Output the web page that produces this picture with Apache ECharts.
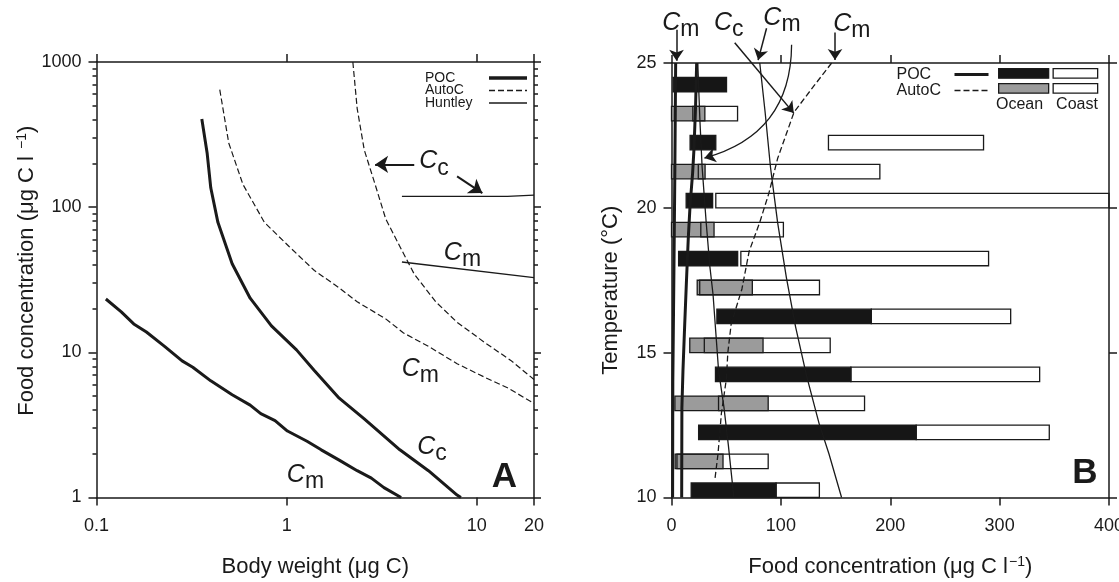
<!DOCTYPE html>
<html><head><meta charset="utf-8">
<script src="https://cdn.jsdelivr.net/npm/echarts@6/dist/echarts.min.js"></script>
<style>html,body{margin:0;padding:0;background:#fff}#c{width:1119px;height:582px}</style>
</head><body><div id="c"></div>
<script>
// ---------- Panel A: body weight (µg C) vs food concentration ----------
const pocCmBody = [0.112,0.135,0.157,0.183,0.228,0.282,0.321,0.399,0.517,0.643,0.731,0.869,1.01,1.28,1.52,1.89,2.35,2.79,3.25,4.0];
const pocCmFood = [23.3,19.0,15.7,13.8,11.0,8.73,7.9,6.36,5.1,4.33,3.78,3.39,2.87,2.44,2.13,1.81,1.53,1.36,1.17,1.0];
const pocCcBody = [0.358,0.382,0.399,0.435,0.517,0.643,0.832,1.127,1.398,1.89,2.56,3.94,5.57,7.88,8.25];
const pocCcFood = [405,235,136,78.6,40.8,23.6,15.2,10.4,7.5,4.83,3.48,2.13,1.53,1.04,1.0];
const autoCmBody = [0.445,0.496,0.589,0.764,1.03,1.40,1.89,2.35,3.32,4.12,5.57,7.88,11.1,14.5,20];
const autoCmFood = [645,277,143.5,78.6,53.6,36.6,27.8,22.3,17.0,13.6,11.0,8.35,6.7,5.7,4.45];
const autoCcBody = [2.23,2.35,2.56,2.92,3.32,3.94,4.69,6.08,7.88,11.1,15.1,20];
const autoCcFood = [1000,478,248,143.5,83,53.6,34.6,22.3,16.1,11.6,8.8,6.5];
const huntCcBody = [4.04,14.5,20];
const huntCcFood = [118.6,118.6,121];
const huntCmBody = [4.04,20];
const huntCmFood = [41.9,32.7];
const xTicksA = [0.1,1,10,20];
const yTicksA = [1,10,100,1000];
const yMinorA = [2,3,4,5,6,7,8,9,20,30,40,50,60,70,80,90,200,300,400,500,600,700,800,900];
const annALabel = ['Cc','Cm','Cm','Cc','Cm'];
const annABody = [5.96,8.41,5.05,5.82,1.256];
const annAFood = [197,46,7.36,2.13,1.37];
const arrowsA = [[[4.69,197],[2.92,197]],[[7.88,163],[10.7,125]]];

// ---------- Panel B: food concentration vs temperature ----------
const pocRowTemp  = [24,22,20,18,16,14,12,10];
const pocOceanMin = [1.5,17.0,13.4,6.5,41.5,40.2,24.8,18.0];
const pocOceanMax = [50.3,40.5,37.6,60.5,182.7,164.0,223.7,95.6];
const pocCoastMin = [null,143.5,40.5,63.4,182.7,164.0,223.7,95.6];
const pocCoastMax = [null,285.3,400,289.9,310.1,336.6,345.4,135.2];
const autoRowTemp  = [23,21,19,17,15,13,11];
const autoOceanMin = [0,0,0,23.5,16.7,3.1,3.3];
const autoOceanMax = [30.5,30.7,38.9,73.9,83.7,88.4,47.1];
const autoCoastMin = [19.5,24.5,26.8,25.8,30.0,43.0,5.0];
const autoCoastMax = [60.4,190.5,102.3,135.3,145.1,176.5,88.4];

const pocCmFoodB = [3.8,3.0,2.0,1.2,1.0];
const pocCmTempB = [25,21,17,14,10];
const pocCcFoodB = [23,22,20.5,19.3,17,15.4,13.7,12.1,10.5,9.5,9.3];
const pocCcTempB = [25,23.5,22,21.2,20.1,19,17.5,16,14.4,13.1,10];
const thinAFoodB = [24,26,28,31.7,35,38,43,48,52,57];
const thinATempB = [25,23,21.4,19.5,18,17,14.4,13.1,11.8,10];
const thinBFoodB = [80.7,85.6,90.5,97,105,113.4,123.5,134.9,144,155.5];
const thinBTempB = [25,23.3,21.4,19.5,17.6,15.9,14.2,12.56,11.5,10];
const autoFoodB = [146.4,130,112,97,89,80.7,71,64.4,54.6,51.5,50.2,45.6,42.5,39.6];
const autoTempB = [25,24.2,23.3,21.7,20.5,19.5,18.5,17.2,16,15,14.1,12.9,11.5,10.6];
const annBLabel = ['Cm','Cc','Cm','Cm'];
const annBFood = [8.5,52.3,101,164.8];
const annBTemp = [26.29,26.29,26.46,26.25];
const arrowsB = [[[4.6,26.15],[4.6,25.08]],[[57.8,25.7],[111.8,23.27]],[[86.9,26.2],[79.2,25.1]],[[149.5,26.05],[149.5,25.1]]];
const curvedArrowB = [[[109.8,25.63],[30.1,21.72]]];

// ---------- styling ----------
const FONT = "'Liberation Sans', Arial, Helvetica, sans-serif";
const INK = '#1a1a1a';
const zip = (a,b) => a.map((v,i) => [v,b[i]]);
const subRich = {
  c: {fontFamily: FONT, fontSize: 25, fontStyle: 'italic', color: INK, opacity: 1, verticalAlign: 'bottom', padding: [0,0,6,0]},
  s: {fontFamily: FONT, fontSize: 23, color: INK, opacity: 1, verticalAlign: 'bottom'}
};
const subFmt = t => '{c|' + t[0] + '}{s|' + t.slice(1) + '}';
const supRich = {sup: {fontFamily: FONT, fontSize: 14, color: INK, verticalAlign: 'top', padding: [0,0,0,1]}};

const lineW = {color: INK, width: 1.5};
function axis(o) {
  return Object.assign({
    axisLine: {show: true, onZero: false, lineStyle: lineW},
    axisTick: {show: true, inside: false, length: 8, lineStyle: lineW},
    axisLabel: {show: false},
    splitLine: {show: false}
  }, o);
}
const tickLabel = {show: true, fontFamily: FONT, fontSize: 18, color: INK};
const nameStyle = {fontFamily: FONT, fontSize: 22, color: INK, rich: supRich};

function barItem(kind) {
  return function (params, api) {
    const t = api.value(0), lo = api.value(1), hi = api.value(2);
    if (isNaN(lo) || isNaN(hi)) return;
    const p0 = api.coord([lo, t]);
    const p1 = api.coord([hi, t + 0.5]);
    const cs = params.coordSys;
    const r = echarts.graphic.clipRectByRect(
      {x: p0[0], y: p1[1], width: p1[0] - p0[0], height: p0[1] - p1[1]},
      {x: cs.x, y: cs.y, width: cs.width, height: cs.height + 1});
    if (!r) return;
    const fill = kind === 'poc' ? '#161616' : kind === 'auto' ? '#9b9b9b' : 'none';
    return {type: 'rect', shape: r, style: {fill: fill, stroke: INK, lineWidth: 1.3}};
  };
}

const lineSeries = (name, xi, yi, data, width, dashed) => ({
  name: name, type: 'line', xAxisIndex: xi, yAxisIndex: yi, data: data,
  symbol: 'none', showSymbol: false, silent: true, z: 5,
  lineStyle: {color: INK, width: width, type: dashed ? [6,3] : 'solid', cap: 'butt'},
  itemStyle: {color: INK}
});
const textSeries = (xi, yi, data, label) => ({
  type: 'scatter', xAxisIndex: xi, yAxisIndex: yi, clip: false, silent: true, z: 10,
  symbolSize: 0, itemStyle: {color: INK, opacity: 1}, emphasis: {disabled: true},
  data: data, label: Object.assign({show: true, position: 'inside', color: INK, opacity: 1, textBorderWidth: 0}, label)
});

const chart = echarts.init(document.getElementById('c'), null, {renderer: 'canvas'});
chart.setOption({
  backgroundColor: '#fff',
  animation: false,
  textStyle: {fontFamily: FONT},
  grid: [
    {left: 96.5, top: 62, width: 437.5, height: 435.5, containLabel: false, outerBoundsMode: 'none'},
    {left: 671.5, top: 63, width: 437.5, height: 434.5, containLabel: false, outerBoundsMode: 'none'}
  ],
  xAxis: [
    axis({gridIndex: 0, type: 'log', logBase: 10, min: 0.1, max: 20, position: 'bottom',
      axisTick: {show: true, length: 8, lineStyle: lineW, customValues: xTicksA},
      axisLabel: Object.assign({}, tickLabel, {margin: 20, customValues: xTicksA, formatter: v => String(+v.toPrecision(3))}),
      name: 'Body weight (μg C)', nameLocation: 'middle', nameGap: 58, nameTextStyle: nameStyle}),
    axis({gridIndex: 0, type: 'log', logBase: 10, min: 0.1, max: 20, position: 'top',
      axisTick: {show: true, length: 8, lineStyle: lineW, customValues: xTicksA}}),
    axis({gridIndex: 1, type: 'value', min: 0, max: 400, interval: 100, position: 'bottom',
      axisLabel: Object.assign({}, tickLabel, {margin: 20}),
      name: 'Food concentration (μg C l{sup|−1})', nameLocation: 'middle', nameGap: 58, nameTextStyle: nameStyle}),
    axis({gridIndex: 1, type: 'value', min: 0, max: 400, interval: 100, position: 'top'})
  ],
  yAxis: [
    axis({gridIndex: 0, type: 'log', logBase: 10, min: 1, max: 1000, position: 'left',
      axisTick: {show: true, length: 8, lineStyle: lineW, customValues: yTicksA},
      axisLabel: Object.assign({}, tickLabel, {margin: 15, customValues: yTicksA, formatter: v => String(Math.round(v))}),
      name: 'Food concentration (μg C l {sup|−1})', nameLocation: 'middle', nameGap: 55,
      nameTextStyle: Object.assign({}, nameStyle, {padding: [0,0,0,18]})}),
    axis({gridIndex: 0, type: 'log', logBase: 10, min: 1, max: 1000, position: 'left',
      axisLine: {show: false}, axisTick: {show: true, length: 4, lineStyle: lineW, customValues: yMinorA}}),
    axis({gridIndex: 0, type: 'log', logBase: 10, min: 1, max: 1000, position: 'right',
      axisTick: {show: true, length: 7, lineStyle: lineW, customValues: yTicksA}}),
    axis({gridIndex: 0, type: 'log', logBase: 10, min: 1, max: 1000, position: 'right',
      axisLine: {show: false}, axisTick: {show: true, length: 4, lineStyle: lineW, customValues: yMinorA}}),
    axis({gridIndex: 1, type: 'value', min: 10, max: 25, interval: 5, position: 'left',
      axisLabel: Object.assign({}, tickLabel, {margin: 15}),
      name: 'Temperature (°C)', nameLocation: 'middle', nameGap: 50,
      nameTextStyle: Object.assign({}, nameStyle, {padding: [0,20,0,0]})}),
    axis({gridIndex: 1, type: 'value', min: 10, max: 25, interval: 5, position: 'right'})
  ],
  legend: [
    {orient: 'vertical', left: 420, top: 66, align: 'right', itemWidth: 38, itemHeight: 8, itemGap: -1.5,
      selectedMode: false,
      data: [{name: 'POC', lineStyle: {width: 3.5}}, {name: 'AutoC', lineStyle: {width: 1.3}}, {name: 'Huntley', lineStyle: {width: 1.4}}],
      itemStyle: {opacity: 0, borderWidth: 0},
      formatter: n => '{n|' + n + '}',
      textStyle: {color: INK, fontFamily: FONT, fontSize: 14, lineHeight: 12,
        rich: {n: {width: 59, align: 'left', fontFamily: FONT, fontSize: 14, color: INK, lineHeight: 12}}}},
    {orient: 'vertical', left: 891.5, top: 61.5, align: 'right', itemWidth: 34, itemHeight: 8, itemGap: 0,
      selectedMode: false,
      data: [{name: 'POC', lineStyle: {width: 3}}, {name: 'AutoC', lineStyle: {width: 1.3}}],
      itemStyle: {opacity: 0, borderWidth: 0},
      formatter: n => '{n|' + n + '}',
      textStyle: {color: INK, fontFamily: FONT, fontSize: 16, lineHeight: 16,
        rich: {n: {width: 53, align: 'left', fontFamily: FONT, fontSize: 16, color: INK, lineHeight: 16}}}}
  ],
  graphic: [
    {type: 'rect', left: 998, top: 68, shape: {width: 50, height: 9.5}, style: {fill: '#161616', stroke: INK, lineWidth: 1.3}, silent: true},
    {type: 'rect', left: 1052.5, top: 68, shape: {width: 44.5, height: 9.5}, style: {fill: '#fff', stroke: INK, lineWidth: 1.3}, silent: true},
    {type: 'rect', left: 998, top: 83, shape: {width: 50, height: 9.5}, style: {fill: '#9b9b9b', stroke: INK, lineWidth: 1.3}, silent: true},
    {type: 'rect', left: 1052.5, top: 83, shape: {width: 44.5, height: 9.5}, style: {fill: '#fff', stroke: INK, lineWidth: 1.3}, silent: true},
    {type: 'text', x: 1019.5, y: 105, style: {text: 'Ocean', fill: INK, font: '16px ' + FONT, textAlign: 'center', textVerticalAlign: 'middle'}, silent: true},
    {type: 'text', x: 1077, y: 105, style: {text: 'Coast', fill: INK, font: '16px ' + FONT, textAlign: 'center', textVerticalAlign: 'middle'}, silent: true}
  ],
  series: [
    // Panel A curves
    lineSeries('POC', 0, 0, zip(pocCmBody, pocCmFood), 3, false),
    lineSeries('POC', 0, 0, zip(pocCcBody, pocCcFood), 3, false),
    lineSeries('AutoC', 0, 0, zip(autoCmBody, autoCmFood), 1.2, true),
    lineSeries('AutoC', 0, 0, zip(autoCcBody, autoCcFood), 1.2, true),
    lineSeries('Huntley', 0, 0, zip(huntCcBody, huntCcFood), 1.4, false),
    lineSeries('Huntley', 0, 0, zip(huntCmBody, huntCmFood), 1.4, false),
    textSeries(0, 0, annALabel.map((t, i) => ({name: t, value: [annABody[i], annAFood[i]]})),
      {formatter: p => subFmt(p.name), rich: subRich}),
    textSeries(0, 0, [{name: 'A', value: [13.97, 1.37]}],
      {formatter: '{b}', fontFamily: FONT, fontSize: 35, fontWeight: 'bold'}),
    {type: 'lines', coordinateSystem: 'cartesian2d', xAxisIndex: 0, yAxisIndex: 0, clip: false, silent: true, z: 10,
      symbol: ['none','arrow'], symbolSize: [0, 13],
      lineStyle: {color: INK, width: 2, opacity: 1, curveness: 0},
      data: arrowsA.map(c => ({coords: c}))},
    // Panel B bars
    {name: 'Ocean POC', type: 'custom', xAxisIndex: 2, yAxisIndex: 4, silent: true, z: 2,
      renderItem: barItem('poc'), encode: {x: [1,2], y: 0},
      data: pocRowTemp.map((t, i) => [t, pocOceanMin[i], pocOceanMax[i]])},
    {name: 'Ocean AutoC', type: 'custom', xAxisIndex: 2, yAxisIndex: 4, silent: true, z: 2,
      renderItem: barItem('auto'), encode: {x: [1,2], y: 0},
      data: autoRowTemp.map((t, i) => [t, autoOceanMin[i], autoOceanMax[i]])},
    {name: 'Coast', type: 'custom', xAxisIndex: 2, yAxisIndex: 4, silent: true, z: 3,
      renderItem: barItem('coast'), encode: {x: [1,2], y: 0},
      data: pocRowTemp.map((t, i) => [t, pocCoastMin[i] == null ? NaN : pocCoastMin[i], pocCoastMax[i] == null ? NaN : pocCoastMax[i]])
        .concat(autoRowTemp.map((t, i) => [t, autoCoastMin[i], autoCoastMax[i]]))},
    // Panel B curves
    lineSeries('POC', 2, 4, zip(pocCmFoodB, pocCmTempB), 3, false),
    lineSeries('POC', 2, 4, zip(pocCcFoodB, pocCcTempB), 3, false),
    lineSeries('Cm coast', 2, 4, zip(thinAFoodB, thinATempB), 1.3, false),
    lineSeries('Cm coast 2', 2, 4, zip(thinBFoodB, thinBTempB), 1.3, false),
    lineSeries('AutoC', 2, 4, zip(autoFoodB, autoTempB), 1.3, true),
    textSeries(2, 4, annBLabel.map((t, i) => ({name: t, value: [annBFood[i], annBTemp[i]]})),
      {formatter: p => subFmt(p.name), rich: subRich}),
    textSeries(2, 4, [{name: 'B', value: [378, 10.83]}],
      {formatter: '{b}', fontFamily: FONT, fontSize: 35, fontWeight: 'bold'}),
    {type: 'lines', coordinateSystem: 'cartesian2d', xAxisIndex: 2, yAxisIndex: 4, clip: false, silent: true, z: 10,
      symbol: ['none','arrow'], symbolSize: [0, 11],
      lineStyle: {color: INK, width: 1.5, opacity: 1, curveness: 0},
      data: arrowsB.map(c => ({coords: c}))},
    {type: 'lines', coordinateSystem: 'cartesian2d', xAxisIndex: 2, yAxisIndex: 4, clip: false, silent: true, z: 10,
      symbol: ['none','arrow'], symbolSize: [0, 11],
      lineStyle: {color: INK, width: 1.3, opacity: 1, curveness: 0.38},
      data: curvedArrowB.map(c => ({coords: c}))}
  ]
});
</script></body></html>
